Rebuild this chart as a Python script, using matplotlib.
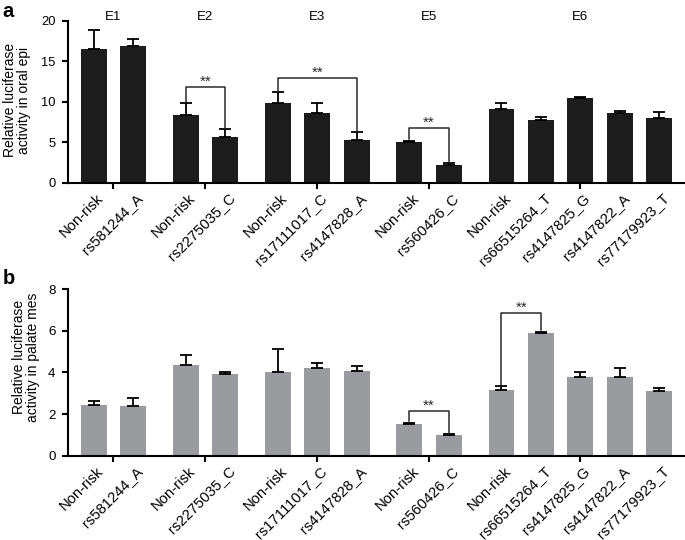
import matplotlib.pyplot as plt
import matplotlib.transforms as mtransforms
import numpy as np

plt.rcParams['font.family'] = ['Liberation Sans', 'DejaVu Sans']

# data
groups = ['E1', 'E2', 'E3', 'E5', 'E6']
group_sizes = [2, 2, 3, 2, 5]
labels = ['Non-risk', 'rs581244_A', 'Non-risk', 'rs2275035_C', 'Non-risk',
          'rs17111017_C', 'rs4147828_A', 'Non-risk', 'rs560426_C', 'Non-risk',
          'rs66515264_T', 'rs4147825_G', 'rs4147822_A', 'rs77179923_T']

oral_mean = [16.45, 16.9, 8.3, 5.6, 9.8, 8.6, 5.3, 5.0, 2.15, 9.15, 7.8, 10.4, 8.6, 7.95]
oral_err = [2.45, 0.8, 1.5, 1.0, 1.35, 1.2, 0.9, 0.2, 0.25, 0.65, 0.3, 0.2, 0.25, 0.75]
oral_sig = [(2, 3, 11.85), (4, 6, 12.9), (7, 8, 6.8)]

palate_mean = [2.44, 2.4, 4.35, 3.94, 4.04, 4.23, 4.09, 1.53, 0.98, 3.17, 5.88, 3.8, 3.8, 3.13]
palate_err = [0.19, 0.38, 0.48, 0.07, 1.1, 0.24, 0.21, 0.06, 0.05, 0.17, 0.08, 0.2, 0.42, 0.12]
palate_sig = [(7, 8, 2.16), (9, 10, 6.85)]

gap = 1.34
pos = []
centers = []
x = 0.0
for n in group_sizes:
    grp = [x + k for k in range(n)]
    pos += grp
    centers.append(np.mean(grp))
    x = grp[-1] + gap
pos = np.array(pos)


def draw_panel(fig, ax, means, errs, sig, color, ymax, step, yfont, show_groups):
    means = np.array(means)
    errs = np.array(errs)
    ax.bar(pos, means, width=0.66, color=color, edgecolor='none', zorder=2)
    ax.errorbar(pos, means, yerr=[np.zeros_like(errs), errs], fmt='none',
                ecolor='black', elinewidth=1.3, capsize=4, capthick=1.3, zorder=3)

    # significance brackets
    pad = ymax * 0.01
    for i, j, h in sig:
        yl = means[i] + errs[i] + pad
        yr = means[j] + errs[j] + pad
        ax.plot([pos[i], pos[i], pos[j], pos[j]], [yl, h, h, yr],
                color='#2a2a2a', lw=1.1, zorder=3)
        ax.text((pos[i] + pos[j]) / 2, h - ymax * 0.012, '**', ha='center',
                va='bottom', fontsize=11, color='#2a2a2a')

    ax.set_xlim(-0.648, 15.02)
    ax.set_ylim(0, ymax)
    ax.set_yticks(np.arange(0, ymax + 0.1, step))
    ax.set_xticks(centers)
    ax.set_xticklabels([])
    ax.tick_params(axis='both', direction='out', length=4, width=1.5,
                   labelsize=yfont, pad=5)

    # rotated category labels under each bar
    trans = mtransforms.offset_copy(ax.transData, fig=fig, x=0, y=-8, units='dots')
    for p, lab in zip(pos, labels):
        ax.text(p + 0.06, 0, lab, rotation=45, ha='right', va='top',
                rotation_mode='anchor', fontsize=10.6,
                transform=trans, clip_on=False)
    for s in ['top', 'right']:
        ax.spines[s].set_visible(False)
    for s in ['left', 'bottom']:
        ax.spines[s].set_linewidth(1.5)

    if show_groups:
        for c, g in zip(centers, groups):
            ax.text(c, ymax * 1.02, g, ha='center', va='center', fontsize=9.5)


fig = plt.figure(figsize=(6.85, 5.4), dpi=100)
ax1 = fig.add_axes([0.0993, 0.6617, 0.9007, 0.300])
ax2 = fig.add_axes([0.0993, 0.1561, 0.9007, 0.3082])

draw_panel(fig, ax1, oral_mean, oral_err, oral_sig, '#1c1c1c', 20, 5, 9.3, True)
draw_panel(fig, ax2, palate_mean, palate_err, palate_sig, '#9a9b9f', 8, 2, 9.6, False)

fig.text(17 / 685, 1 - 100 / 540, 'Relative luciferase\nactivity in oral epi',
         rotation=90, ha='center', va='center', fontsize=10, linespacing=1.05)
fig.text(26 / 685, 1 - 357 / 540, 'Relative luciferase\nactivity in palate mes',
         rotation=90, ha='center', va='center', fontsize=10, linespacing=1.05)

fig.text(0.004, 0.978, 'a', fontsize=14.5, fontweight='bold', va='center')
fig.text(0.004, 0.485, 'b', fontsize=14.5, fontweight='bold', va='center')

fig.savefig('out.png', dpi=100)
